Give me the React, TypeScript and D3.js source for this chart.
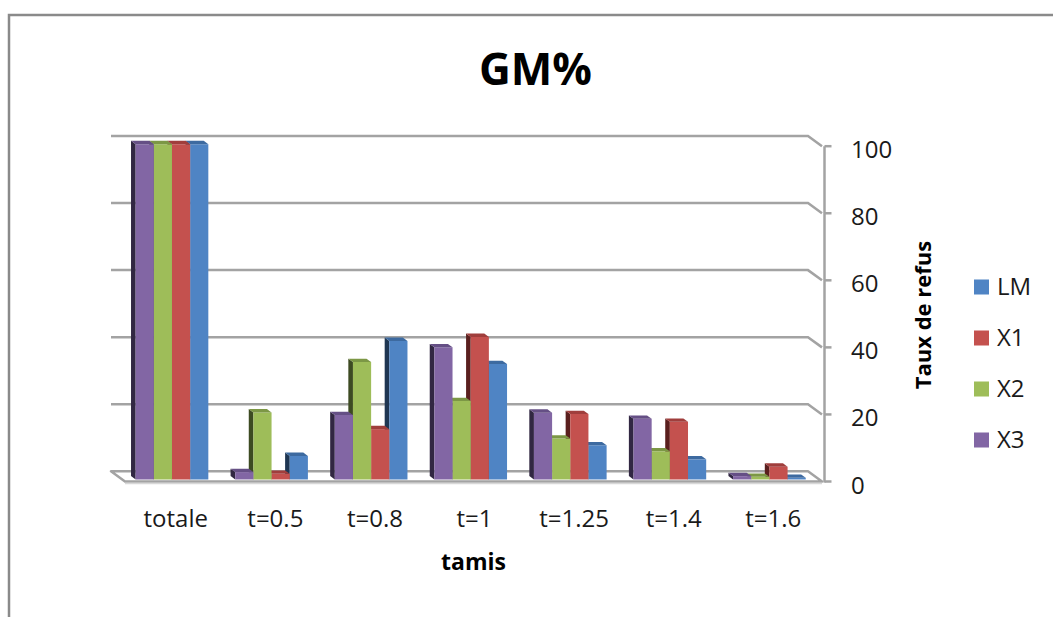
import React from "react";
import * as d3 from "d3";

// Sieve refusal rates (Taux de refus) per sieve size for each mix
const categories = ["totale", "t=0.5", "t=0.8", "t=1", "t=1.25", "t=1.4", "t=1.6"];
const seriesOrder = ["X3", "X2", "X1", "LM"]; // left-to-right order inside a cluster
const legendOrder = ["LM", "X1", "X2", "X3"];
const valuesX3 = [100, 2.2, 19.2, 39.4, 19.9, 18.1, 1];
const valuesX2 = [100, 20, 35, 23.4, 12.2, 8.4, 0.8];
const valuesX1 = [100, 1.7, 15, 42.5, 19.5, 17.2, 3.8];
const valuesLM = [100, 7, 41.3, 34.4, 10.2, 6, 0.5];
const yTicks = [0, 20, 40, 60, 80, 100];

const seriesValues: Record<string, number[]> = {
  X3: valuesX3,
  X2: valuesX2,
  X1: valuesX1,
  LM: valuesLM,
};

// front / top / side shades for each series
const palette: Record<string, { front: string; top: string; side: string }> = {
  LM: { front: "#4f84c4", top: "#3d6aa0", side: "#1f3652" },
  X1: { front: "#c4514e", top: "#a03e3c", side: "#5a1f1e" },
  X2: { front: "#9ebd59", top: "#7c9745", side: "#3d4b22" },
  X3: { front: "#8266a4", top: "#654f85", side: "#312742" },
};

const W = 1053;
const H = 617;

// back-wall plot box
const BACK_LEFT = 111;
const BACK_RIGHT = 808;
const BACK_ZERO = 471.3;
const BACK_TOP = 136;
// oblique depth projection (back wall -> front edge)
const DEPTH_DX = 14;
const DEPTH_DY = 10.2;
const BAR_FRONT = 0.8;
const BAR_BACK = 0.47;

const y = d3.scaleLinear().domain([0, 100]).range([BACK_ZERO, BACK_TOP]);
const xCat = d3
  .scaleBand<string>()
  .domain(categories)
  .range([BACK_LEFT, BACK_RIGHT])
  .paddingInner(0.27)
  .paddingOuter(0.135);
const xSer = d3.scaleBand<string>().domain(seriesOrder).range([0, xCat.bandwidth()]).padding(0);

const proj = (x: number, v: number, d: number): [number, number] => [
  x + DEPTH_DX * d,
  y(v) + DEPTH_DY * d,
];
const pts = (arr: [number, number][]) => arr.map((p) => p.join(",")).join(" ");

function Bar({ cat, ser, value }: { cat: string; ser: string; value: number }) {
  const x0 = (xCat(cat) ?? 0) + (xSer(ser) ?? 0);
  const x1 = x0 + xSer.bandwidth();
  const c = palette[ser];
  const fTL = proj(x0, value, BAR_FRONT);
  const fTR = proj(x1, value, BAR_FRONT);
  const fBL = proj(x0, 0, BAR_FRONT);
  const fBR = proj(x1, 0, BAR_FRONT);
  const bTL = proj(x0, value, BAR_BACK);
  const bTR = proj(x1, value, BAR_BACK);
  const bBL = proj(x0, 0, BAR_BACK);
  return (
    <g>
      <polygon points={pts([bTL, fTL, fBL, bBL])} fill={c.side} />
      <polygon points={pts([fTL, fTR, fBR, fBL])} fill={c.front} />
      <polygon points={pts([bTL, bTR, fTR, fTL])} fill={c.top} />
    </g>
  );
}

export default function App() {
  const axisX = BACK_RIGHT + DEPTH_DX + 2.5;
  const fontFamily = "'Open Sans', 'DejaVu Sans', sans-serif";
  return (
    <svg
      width={W}
      height={H}
      viewBox={`0 0 ${W} ${H}`}
      style={{ position: "absolute", left: 0, top: 0, background: "#fff" }}
      fontFamily={fontFamily}
    >
      <rect x={0} y={0} width={W} height={H} fill="#fff" />
      {/* chart area border */}
      <path d={`M9,${H} L9,15 L${W},15`} fill="none" stroke="#8a8a8a" strokeWidth={2.5} />

      {/* title */}
      <text x={535.5} y={85} textAnchor="middle" fontSize={44} fontWeight="bold" fill="#000">
        GM%
      </text>

      {/* floor */}
      <polygon
        points={pts([
          [BACK_LEFT, BACK_ZERO],
          [BACK_RIGHT, BACK_ZERO],
          [BACK_RIGHT + DEPTH_DX, BACK_ZERO + DEPTH_DY],
          [BACK_LEFT + DEPTH_DX, BACK_ZERO + DEPTH_DY],
        ])}
        fill="#fff"
        stroke="#a3a3a3"
        strokeWidth={2.5}
        strokeLinejoin="round"
      />
      <line
        x1={BACK_LEFT + DEPTH_DX}
        x2={BACK_RIGHT + DEPTH_DX}
        y1={BACK_ZERO + DEPTH_DY + 2}
        y2={BACK_ZERO + DEPTH_DY + 2}
        stroke="#d8d8d8"
        strokeWidth={1.5}
      />

      {/* gridlines on the back wall, folding to the value axis */}
      {yTicks.map((t) => {
        const yy = y(t);
        return (
          <g key={`g${t}`}>
            {t > 0 && (
              <polyline
                points={pts([
                  [BACK_LEFT, yy],
                  [BACK_RIGHT, yy],
                  [BACK_RIGHT + DEPTH_DX, yy + DEPTH_DY],
                ])}
                fill="none"
                stroke="#a3a3a3"
                strokeWidth={2.5}
              />
            )}
            <line
              x1={axisX}
              x2={axisX + 7}
              y1={yy + DEPTH_DY}
              y2={yy + DEPTH_DY}
              stroke="#a3a3a3"
              strokeWidth={2.5}
            />
            <text
              x={851}
              y={yy + DEPTH_DY + 2.5}
              dominantBaseline="central"
              fontSize={24}
              fill="#1a1a1a"
            >
              {t}
            </text>
          </g>
        );
      })}
      {/* value axis line */}
      <line
        x1={axisX}
        x2={axisX}
        y1={y(100) + DEPTH_DY}
        y2={y(0) + DEPTH_DY + 1}
        stroke="#a3a3a3"
        strokeWidth={2.5}
      />

      {/* bars: painted right-to-left so side faces tuck behind the neighbour */}
      {categories.map((cat, i) => (
        <g key={cat}>
          {[...seriesOrder].reverse().map((ser) => (
            <Bar key={ser} cat={cat} ser={ser} value={seriesValues[ser][i]} />
          ))}
        </g>
      ))}

      {/* category labels */}
      {categories.map((cat) => (
        <text
          key={`l${cat}`}
          x={(xCat(cat) ?? 0) + xCat.bandwidth() / 2 + DEPTH_DX + 1}
          y={526.5}
          textAnchor="middle"
          fontSize={24}
          fill="#1a1a1a"
        >
          {cat}
        </text>
      ))}

      {/* axis titles */}
      <text x={473.5} y={570} textAnchor="middle" fontSize={23} fontWeight="bold" fill="#000">
        tamis
      </text>
      <text
        transform="translate(931,315) rotate(-90)"
        textAnchor="middle"
        fontSize={22}
        fontWeight="bold"
        fill="#000"
      >
        Taux de refus
      </text>

      {/* legend */}
      {legendOrder.map((ser, i) => (
        <g key={`lg${ser}`} transform={`translate(974,${279.5 + i * 51})`}>
          <rect x={0} y={0} width={15} height={15} fill={palette[ser].front} />
          <text x={23} y={15.5} fontSize={24} fill="#1a1a1a">
            {ser}
          </text>
        </g>
      ))}
    </svg>
  );
}
